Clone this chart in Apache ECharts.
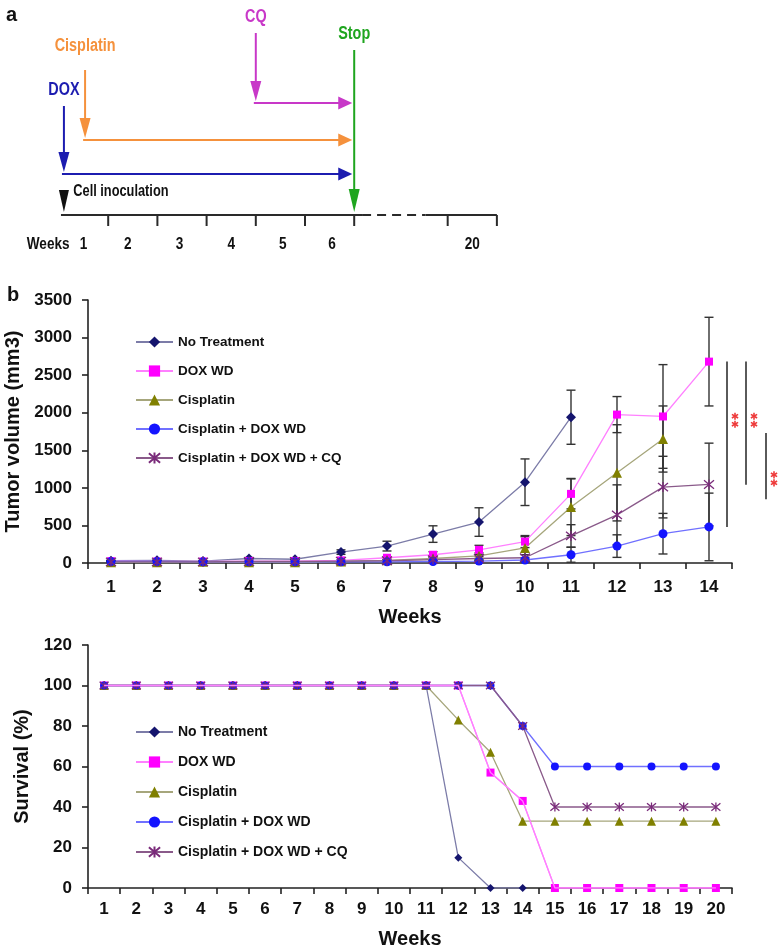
<!DOCTYPE html>
<html><head><meta charset="utf-8">
<script src="https://cdn.jsdelivr.net/npm/echarts@6/dist/echarts.min.js"></script>
<style>html,body{margin:0;padding:0;background:#fff}#c{width:778px;height:948px}</style>
</head><body><div id="c"></div><script>
// ---------- Panel a : treatment schedule ----------
const drugNames = ['DOX', 'Cisplatin', 'CQ'];
const drugStartWeek = [0.1, 0.53, 4.0];
const stopWeek = 6.0;
const timelineTickWeeks = [1, 2, 3, 4, 5, 6, 7.9, 8.9];
const timelineLabels = ['Weeks', '1', '2', '3', '4', '5', '6', '20'];
const timelineLabelWeeks = [-0.22, 0.5, 1.4, 2.45, 3.5, 4.55, 5.55, 8.4];

// ---------- Panel b : tumor volume ----------
const seriesNames = ['No Treatment', 'DOX WD', 'Cisplatin', 'Cisplatin + DOX WD', 'Cisplatin + DOX WD + CQ'];
const tumorWeeks = ['1','2','3','4','5','6','7','8','9','10','11','12','13','14'];
const tumorNT   = [30, 35, 25, 60, 50, 145, 225, 385, 545, 1075, 1940, null, null, null];
const tumorDOX  = [25, 20, 20, 25, 25, 35, 70, 110, 175, 285, 920, 1975, 1950, 2680];
const tumorCis  = [10, 10, 15, 10, 10, 20, 35, 60, 95, 200, 745, 1200, 1650, null];
const tumorCD   = [20, 20, 15, 15, 15, 15, 15, 20, 25, 40, 110, 225, 390, 480];
const tumorCQ   = [15, 15, 15, 20, 20, 25, 30, 45, 60, 70, 360, 640, 1010, 1045];
const sdNT  = [8, 8, 8, 12, 12, 30, 65, 110, 190, 310, 360, null, null, null];
const sdDOX = [5, 5, 5, 5, 5, 8, 15, 40, 60, 80, 200, 240, 690, 590];
const sdCis = [5, 5, 5, 5, 5, 8, 12, 25, 40, 150, 380, 640, 440, null];
const sdCD  = [5, 5, 5, 5, 5, 5, 5, 8, 10, 30, 100, 150, 270, 450];
const sdCQ  = [5, 5, 5, 5, 5, 8, 10, 15, 25, 40, 150, 400, 410, 550];
const tumorTicks = [0, 500, 1000, 1500, 2000, 2500, 3000, 3500];
// significance brackets: [top value, bottom value, star value]
const sigTop = [2680, 2680, 1730];
const sigBottom = [480, 1040, 850];
const sigStar = [1900, 1900, 1120];

// ---------- Panel c : survival ----------
const survWeeks = ['1','2','3','4','5','6','7','8','9','10','11','12','13','14','15','16','17','18','19','20'];
const survNT  = [100,100,100,100,100,100,100,100,100,100,100,15,0,0,null,null,null,null,null,null];
const survDOX = [100,100,100,100,100,100,100,100,100,100,100,100,57,43,0,0,0,0,0,0];
const survCis = [100,100,100,100,100,100,100,100,100,100,100,83,67,33,33,33,33,33,33,33];
const survCD  = [100,100,100,100,100,100,100,100,100,100,100,100,100,80,60,60,60,60,60,60];
const survCQ  = [100,100,100,100,100,100,100,100,100,100,100,100,100,80,40,40,40,40,40,40];

// ---------- styling ----------
const FONT = "'Liberation Sans', Arial, sans-serif";
const markerColors = ['#15156e', '#ff00ff', '#808000', '#1414ff', '#7a2a7a'];
const lineColors   = ['#7c7ca8', '#ff80ff', '#a6a67c', '#7070ff', '#8a5a8a'];
const drugColors = ['#1c1cb0', '#f5913c', '#c838c8'];
const stopColor = '#1fa51f';
const starPath = 'path://M0,0L10,10M10,0L0,10M5,-1L5,11';
const tumorSym = ['diamond', 'rect', 'triangle', 'circle', starPath];
const tumorSymSize = [[10, 10], 8, 10, 9, 10];
const survSymSize = [[8, 8], 8, 9, 8, 9];
// schedule layout (vertical lanes, in schematic units above the axis)
const laneY = [41, 75, 112], arrowTopY = [109, 145, 182], labelY = [125, 169, 198];
const NSX = 0.8; // horizontal squeeze of the narrow schedule font

function arrow(p1, p2, hl, hw, color, lw) {
  const dx = p2[0]-p1[0], dy = p2[1]-p1[1], len = Math.hypot(dx, dy);
  const ux = dx/len, uy = dy/len, nx = -uy, ny = ux;
  const b = [p2[0]-ux*hl, p2[1]-uy*hl];
  return [
    {type:'line', shape:{x1:p1[0], y1:p1[1], x2:b[0]+ux, y2:b[1]+uy}, style:{stroke:color, lineWidth:lw}},
    {type:'polygon', shape:{points:[p2, [b[0]+nx*hw/2, b[1]+ny*hw/2], [b[0]-nx*hw/2, b[1]-ny*hw/2]]}, style:{fill:color}}
  ];
}
function ntext(p, s, color, size, align) {
  return {type:'text', x:p[0], y:p[1], scaleX:NSX, scaleY:1,
    style:{text:s, fill:color, font:'bold ' + size + 'px ' + FONT, align:align || 'center', verticalAlign:'middle'}};
}
function asterisk(cx, cy, r, color) {
  const out = [];
  for (let k = 0; k < 3; k++) {
    const a = Math.PI/2 + k*Math.PI/3, dx = Math.cos(a)*r, dy = Math.sin(a)*r;
    out.push({type:'line', shape:{x1:cx-dx, y1:cy-dy, x2:cx+dx, y2:cy+dy}, style:{stroke:color, lineWidth:1.6}});
  }
  return out;
}

const chart = echarts.init(document.getElementById('c'), null, {renderer:'canvas'});

const series = [];
// schedule: drugs
series.push({
  type:'custom', xAxisIndex:0, yAxisIndex:0, silent:true,
  data: drugNames.map((n, i) => [drugStartWeek[i], i]),
  renderItem(params, api) {
    const i = api.value(1), w = api.value(0), c = drugColors[i];
    const ch = [];
    ch.push(...arrow(api.coord([w, arrowTopY[i]]), api.coord([w, laneY[i] + 2]), 20, 11, c, 2));
    ch.push(...arrow(api.coord([w - 0.04, laneY[i]]), api.coord([stopWeek - 0.04, laneY[i]]), 14, 13, c, 2));
    ch.push(ntext(api.coord([w, labelY[i]]), drugNames[i], c, 18));
    return {type:'group', children:ch};
  }
});
// schedule: stop, axis, ticks, labels, cell inoculation
series.push({
  type:'custom', xAxisIndex:0, yAxisIndex:0, silent:true,
  data: [[stopWeek, 0]],
  renderItem(params, api) {
    const ch = [];
    ch.push(...arrow(api.coord([stopWeek, 165]), api.coord([stopWeek, 3]), 23, 11, stopColor, 2));
    ch.push(ntext(api.coord([stopWeek, 181]), 'Stop', stopColor, 18));
    const ax = (a, b, dash) => { const p = api.coord([a, 0]), q = api.coord([b, 0]);
      return {type:'line', shape:{x1:p[0], y1:p[1], x2:q[0], y2:q[1]}, style:{stroke:'#2a2a2a', lineWidth:2, lineDash: dash ? [9, 6] : null}}; };
    ch.push(ax(0.04, 6.16, false), ax(6.16, 7.45, true), ax(7.45, 8.9, false));
    timelineTickWeeks.forEach(w => { const p = api.coord([w, 0]);
      ch.push({type:'line', shape:{x1:p[0], y1:p[1], x2:p[0], y2:p[1] + 11}, style:{stroke:'#2a2a2a', lineWidth:2}}); });
    timelineLabels.forEach((s, k) => ch.push(ntext(api.coord([timelineLabelWeeks[k], -29]), s, '#111', 17)));
    const a = api.coord([0.1, 25]), b = api.coord([0.1, 3]);
    ch.push({type:'polygon', shape:{points:[[a[0]-5, a[1]], [a[0]+5, a[1]], [b[0], b[1]]]}, style:{fill:'#111'}});
    ch.push(ntext(api.coord([0.29, 23]), 'Cell inoculation', '#111', 16, 'left'));
    return {type:'group', children:ch};
  }
});

// tumor error bars
const tumorVals = [tumorNT, tumorDOX, tumorCis, tumorCD, tumorCQ];
const tumorSd = [sdNT, sdDOX, sdCis, sdCD, sdCQ];
const ebData = [];
tumorVals.forEach((arr, s) => arr.forEach((v, k) => { if (v != null) ebData.push([k, v, tumorSd[s][k]]); }));
series.push({
  type:'custom', xAxisIndex:1, yAxisIndex:1, silent:true, z:1, data: ebData,
  renderItem(params, api) {
    const k = api.value(0), v = api.value(1), sd = api.value(2);
    const hi = api.coord([k, v + sd]), lo = api.coord([k, Math.max(0, v - sd)]);
    const st = {stroke:'#333', lineWidth:1.4};
    return {type:'group', children:[
      {type:'line', shape:{x1:hi[0], y1:hi[1], x2:lo[0], y2:lo[1]}, style:st},
      {type:'line', shape:{x1:hi[0]-4.5, y1:hi[1], x2:hi[0]+4.5, y2:hi[1]}, style:st},
      {type:'line', shape:{x1:lo[0]-4.5, y1:lo[1], x2:lo[0]+4.5, y2:lo[1]}, style:st}
    ]};
  }
});
// significance brackets
const sigOffsets = [18, 37, 57];
series.push({
  type:'custom', xAxisIndex:1, yAxisIndex:1, silent:true, z:1,
  data: sigTop.map((t, i) => [13, t, sigBottom[i], sigStar[i], i]),
  renderItem(params, api) {
    const i = api.value(4), off = sigOffsets[i];
    const t = api.coord([13, api.value(1)]), b = api.coord([13, api.value(2)]), s = api.coord([13, api.value(3)]);
    const sx = s[0] + off + 8;
    return {type:'group', children:[
      {type:'line', shape:{x1:t[0]+off, y1:t[1], x2:b[0]+off, y2:b[1]}, style:{stroke:'#5a5a5a', lineWidth:2}},
      ...asterisk(sx, s[1]-4, 3.6, '#ee3a3a'), ...asterisk(sx, s[1]+4, 3.6, '#ee3a3a')
    ]};
  }
});
// tumor lines
tumorVals.forEach((arr, s) => series.push({
  type:'line', name:seriesNames[s], xAxisIndex:1, yAxisIndex:1, z:3, data:arr,
  symbol:tumorSym[s], symbolSize:tumorSymSize[s], showAllSymbol:true,
  lineStyle:{color:lineColors[s], width:1.3},
  itemStyle:{color: s === 4 ? 'rgba(0,0,0,0)' : markerColors[s], borderColor:markerColors[s], borderWidth: s === 4 ? 1.3 : 0},
  emphasis:{disabled:true}, animation:false
}));
// survival lines
const survVals = [survNT, survDOX, survCis, survCD, survCQ];
survVals.forEach((arr, s) => series.push({
  type:'line', name:seriesNames[s], xAxisIndex:2, yAxisIndex:2, z:3, data:arr,
  symbol:tumorSym[s], symbolSize:survSymSize[s], showAllSymbol:true,
  lineStyle:{color:lineColors[s], width:1.3},
  itemStyle:{color: s === 4 ? 'rgba(0,0,0,0)' : markerColors[s], borderColor:markerColors[s], borderWidth: s === 4 ? 1.3 : 0},
  emphasis:{disabled:true}, animation:false
}));
// DOX WD survival line drawn over the others (as in the original figure)
series.push({
  type:'line', xAxisIndex:2, yAxisIndex:2, z:4, data:survDOX, symbol:'none', silent:true,
  lineStyle:{color:lineColors[1], width:1.3}, emphasis:{disabled:true}, animation:false
});

const axisLbl = {color:'#111', fontFamily:FONT, fontWeight:'bold', fontSize:17};
const axisLn = {show:true, lineStyle:{color:'#222', width:1.6}};
const axisTk = {show:true, inside:false, length:6, lineStyle:{color:'#222', width:1.6}};
const nameSt = {color:'#111', fontFamily:FONT, fontWeight:'bold', fontSize:20};
const legendBase = {orient:'vertical', left:130, itemWidth:37, itemHeight:14,
  textStyle:{color:'#111', fontFamily:FONT, fontWeight:'bold', fontSize:13.5}, selectedMode:false, data:seriesNames};
const plain = v => String(v);

chart.setOption({
  animation:false,
  backgroundColor:'#fff',
  title:[
    {text:'a', left:1, top:0, textStyle:{fontFamily:FONT, fontWeight:'bold', fontSize:20, color:'#111'}},
    {text:'b', left:2, top:280, textStyle:{fontFamily:FONT, fontWeight:'bold', fontSize:20, color:'#111'}}
  ],
  grid:[
    {left:19.64, top:0, width:482.16, height:255, outerBoundsMode:'none', containLabel:false},
    {left:88, top:300, width:644, height:263, outerBoundsMode:'none', containLabel:false},
    {left:88, top:645, width:644, height:243, outerBoundsMode:'none', containLabel:false}
  ],
  xAxis:[
    {gridIndex:0, type:'value', min:-0.8, max:9.0, show:false},
    {gridIndex:1, type:'category', data:tumorWeeks, boundaryGap:true, name:'Weeks', nameLocation:'middle', nameGap:44, nameTextStyle:nameSt,
     axisLine:axisLn, axisTick:axisTk, axisLabel:Object.assign({interval:0, margin:16}, axisLbl), splitLine:{show:false}},
    {gridIndex:2, type:'category', data:survWeeks, boundaryGap:true, name:'Weeks', nameLocation:'middle', nameGap:41, nameTextStyle:nameSt,
     axisLine:axisLn, axisTick:axisTk, axisLabel:Object.assign({interval:0, margin:13}, axisLbl), splitLine:{show:false}}
  ],
  yAxis:[
    {gridIndex:0, type:'value', min:-40, max:215, show:false},
    {gridIndex:1, type:'value', min:tumorTicks[0], max:tumorTicks[tumorTicks.length-1], interval:500, name:'Tumor volume (mm3)',
     nameLocation:'middle', nameGap:58, nameTextStyle:nameSt, axisLine:axisLn, axisTick:axisTk,
     axisLabel:Object.assign({margin:16, formatter:plain}, axisLbl), splitLine:{show:false}},
    {gridIndex:2, type:'value', min:0, max:120, interval:20, name:'Survival (%)',
     nameLocation:'middle', nameGap:54, nameTextStyle:nameSt, axisLine:axisLn, axisTick:axisTk,
     axisLabel:Object.assign({margin:16, formatter:plain}, axisLbl), splitLine:{show:false}}
  ],
  legend:[
    Object.assign({}, legendBase, {top:330, itemGap:15}),
    Object.assign({}, legendBase, {top:720, itemGap:16, textStyle:Object.assign({}, legendBase.textStyle, {fontSize:14})})
  ],
  series: series
});
</script></body></html>
